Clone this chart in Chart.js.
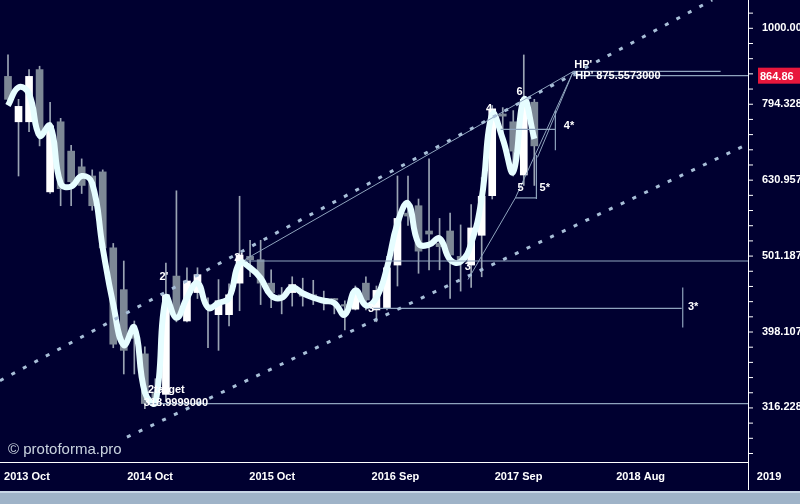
<!DOCTYPE html>
<html><head><meta charset="utf-8">
<script src="https://cdn.jsdelivr.net/npm/chart.js@4/dist/chart.umd.min.js"></script>
<style>
html,body{margin:0;padding:0;background:#000030;width:800px;height:504px;overflow:hidden}
#wrap{position:absolute;left:0;top:0;width:800px;height:490px}
#strip{position:absolute;left:0;top:491px;width:800px;height:13px;background:#9fb3c8;border-top:2px solid #c8d6e6}
</style></head><body>
<div id="wrap"><canvas id="c"></canvas></div><div id="strip"></div>
<script>
// OHLC monthly candles (index 0..50)
const opens  = [863,752,752,881,608,752,688,656,638,646,513,452,395,372,330,329,471,411,448,432,419,419,461,500,495,461,445,448,445,445,440,440,432,426,461,425,428,487,570,583,540,520,540,500,487,533,601,770,752,640,798];
const highs  = [921,805,881,890,798,760,700,672,650,650,520,493,411,380,345,490,610,483,483,441,466,460,600,525,525,480,455,470,468,465,450,440,437,457,470,457,500,638,638,595,672,561,570,550,585,635,790,785,778,921,805];
const lows   = [798,638,730,699,605,583,583,605,575,505,379,350,350,315,319,322,410,410,440,379,376,405,424,470,432,428,420,430,430,432,425,420,400,425,425,410,425,457,549,475,480,480,440,450,455,470,595,720,638,620,620];
const closes = [805,788,863,721,743,614,627,620,583,513,383,376,390,320,325,445,419,464,473,430,437,445,502,495,461,448,443,459,443,442,437,438,430,448,438,451,483,561,565,508,535,515,502,495,545,600,782,765,688,805,699];
const smooth = [790,835,818,721,743,624,618,638,624,513,432,382,403,331,321,441,415,441,461,428,434,441,490,483,468,444,441,455,447,441,437,434,419,451,431,441,483,553,587,520,518,528,495,492,520,596,770,714,646,805,714];
// x tick labels
const xTickLabels = ['2013 Oct','2014 Oct','2015 Oct','2016 Sep','2017 Sep','2018 Aug','2019'];
const xTickPos    = [1.8,13.5,25.1,36.8,48.5,60.1,72.3];
const yTickValues = [1000,794.33,630.96,501.19,398.11,316.23];
const yTickLabels = ['1000.00','794.328','630.957','501.187','398.107','316.228'];
// channel and wave lines [x0,y0,x1,y1]
const upperChannel = [-0.76,343,66.9,1088];
const lowerChannel = [11.3,289,70.3,703];
const waveLines = [[22.5,495,53.7,876],[43.7,466,48.2,597],[48.2,597,53.7,876],[50.3,675,53.7,876]];
const levelLines = [[22.5,493,70.3,493],[34.4,427,64.0,427],[13.5,320,70.3,320],[53.7,876,67.7,876],[53.7,865,70.3,865],[46.8,735,52.0,735],[48.2,597,50.2,597]];
const vertLines = [[64.1,455,403],[52.0,778,690],[50.2,680,595]];
const annText = ["2'","2'","3","3","4","6","5","5*","4*","HP'","HP' 875.5573000","3*","2target","318.9999000"];
const annX = [14.4,21.5,34.2,43.4,45.4,48.3,48.4,50.5,52.8,53.8,53.9,64.6,13.3,12.9];
const annY = [465,493,423,480,775,815,610,610,735,885,857,425,330,318];
const lastPrice = 864.86;

const segDS = (arr, dash, col, w) => ({type:'line', data:[{x:arr[0],y:arr[1]},{x:arr[2],y:arr[3]}], borderColor:col, borderWidth:w, borderDash:dash, pointRadius:0, tension:0, order:0});
const idx = opens.map((_,i)=>i);
const datasets = [
  segDS(upperChannel,[4,9],'#a8bfd8',3),
  segDS(lowerChannel,[4,9],'#a8bfd8',3),
  ...waveLines.map(l=>segDS(l,[],'#8ea3bd',1)),
  ...levelLines.map(l=>segDS(l,[],'#8ea3bd',1.2)),
  ...vertLines.map(v=>segDS([v[0],v[1],v[0],v[2]],[],'#8ea3bd',1.2)),
  {type:'bar', data:idx.map(i=>({x:i,y:[lows[i],highs[i]]})), backgroundColor:'#9aa4b4', barThickness:1, grouped:false, order:3},
  {type:'bar', data:idx.map(i=>({x:i,y:[opens[i],closes[i]]})), backgroundColor:idx.map(i=>closes[i]>=opens[i]?'#ffffff':'#7d8896'), barThickness:7, grouped:false, order:2},
  {type:'line', data:idx.map(i=>({x:i,y:smooth[i]})), borderColor:'#e6fdff', borderWidth:6, pointRadius:0, tension:0.45, order:1}
];

const overlay = {
  id:'overlay',
  afterDatasetsDraw(ch){
    const {ctx, scales:{x,y}, chartArea:a} = ch;
    ctx.save();
    ctx.beginPath(); ctx.rect(a.left,a.top,a.right-a.left,a.bottom-a.top); ctx.clip();
    ctx.font = 'bold 11px "Liberation Sans", Arial, sans-serif';
    ctx.fillStyle = '#ffffff'; ctx.textBaseline='alphabetic';
    annText.forEach((t,i)=>ctx.fillText(t, x.getPixelForValue(annX[i]), y.getPixelForValue(annY[i])));
    ctx.font = '15px "Liberation Sans", Arial, sans-serif';
    ctx.fillStyle = '#c9d3df';
    ctx.fillText('© protoforma.pro', 8, 454);
    ctx.restore();
    ctx.save();
    ctx.strokeStyle='#ffffff'; ctx.lineWidth=1;
    ctx.beginPath(); ctx.moveTo(a.right+0.5,0); ctx.lineTo(a.right+0.5,490);
    ctx.moveTo(0,a.bottom+0.5); ctx.lineTo(a.right,a.bottom+0.5); ctx.stroke();
    const py = y.getPixelForValue(lastPrice);
    ctx.fillStyle='#e8173c'; ctx.fillRect(a.right+10, py-8, 52, 16);
    ctx.fillStyle='#ffffff'; ctx.font='bold 11px "Liberation Sans", Arial, sans-serif';
    ctx.textBaseline='middle'; ctx.fillText(lastPrice.toFixed(2), a.right+12, py+1);
    ctx.strokeStyle='#ffffff';
    for(let e=2.40;e<=3.06;e+=0.02){
      const p=y.getPixelForValue(Math.pow(10,e));
      if(p<a.top||p>a.bottom) continue;
      ctx.beginPath(); ctx.moveTo(a.right,p+0.5); ctx.lineTo(a.right+5,p+0.5); ctx.stroke();
    }
    ctx.restore();
  }
};

new Chart(document.getElementById('c'), {
  data:{datasets},
  options:{
    responsive:true, maintainAspectRatio:false, animation:false,
    layout:{padding:0},
    plugins:{legend:{display:false}, tooltip:{enabled:false}},
    scales:{
      x:{type:'linear', min:-0.76, max:70.3, offset:false,
         grid:{display:false}, border:{display:false},
         afterBuildTicks:s=>{s.ticks=xTickPos.map(v=>({value:v}));},
         afterFit:s=>{s.height=28; s.paddingLeft=0; s.paddingRight=0;},
         ticks:{color:'#ffffff', autoSkip:false, maxRotation:0, padding:0,
           font:{family:'"Liberation Sans", Arial', size:11, weight:'bold'},
           callback:(v,i)=>xTickLabels[i]}},
      y:{type:'logarithmic', position:'right', min:268, max:1088,
         grid:{display:false, drawTicks:true}, border:{display:false},
         afterBuildTicks:s=>{s.ticks=yTickValues.map(v=>({value:v}));},
         afterFit:s=>{s.width=52; s.paddingTop=0; s.paddingBottom=0;},
         ticks:{color:'#ffffff', autoSkip:false, padding:6,
           font:{family:'"Liberation Sans", Arial', size:11, weight:'bold'},
           callback:(v,i)=>yTickLabels[i]}}
    }
  },
  plugins:[overlay]
});
</script></body></html>
